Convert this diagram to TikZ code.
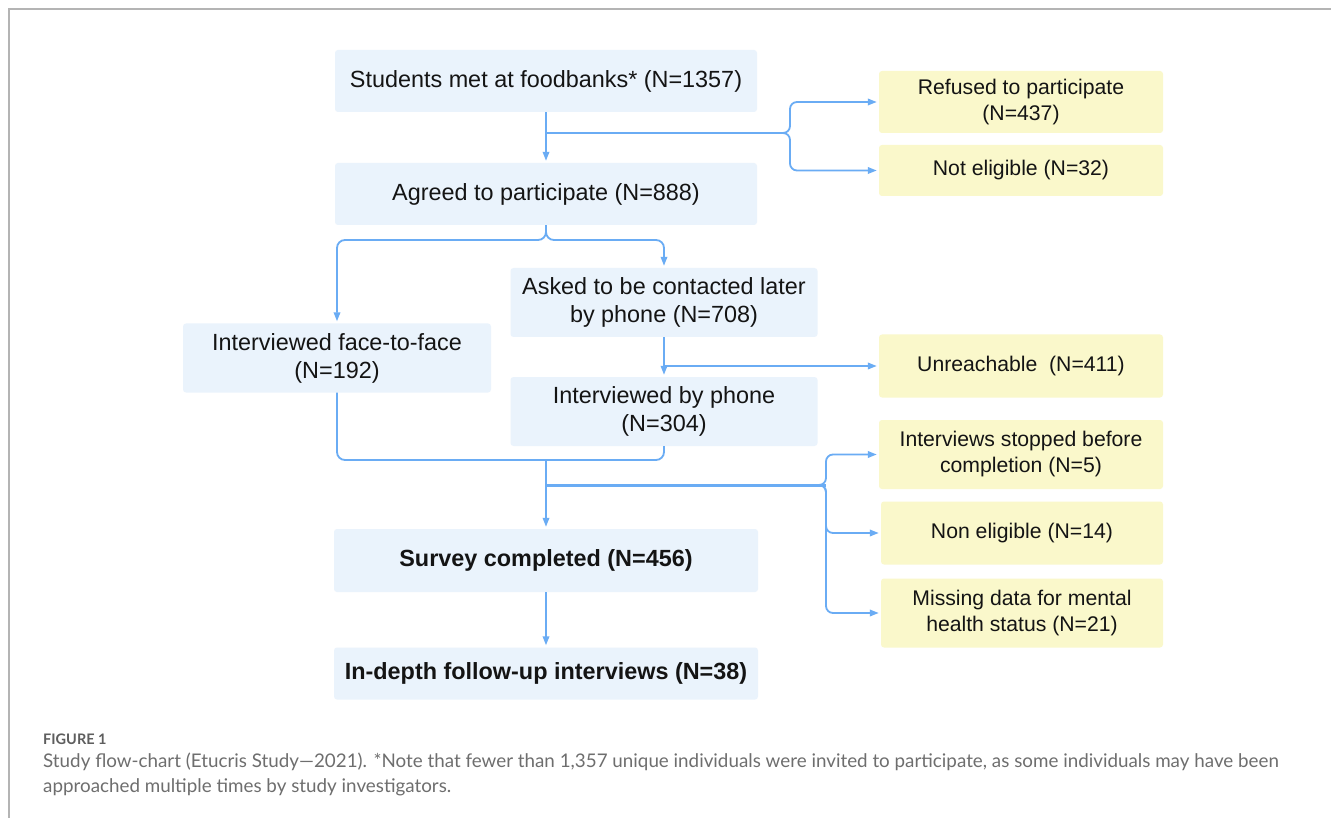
\documentclass[tikz,border=0pt]{standalone}
\usepackage{fontspec}
\setmainfont{Liberation Sans}
\newfontfamily\capfont{Lato}
\usetikzlibrary{arrows.meta}
\definecolor{boxblue}{HTML}{EAF3FC}
\definecolor{boxyellow}{HTML}{FAF8CB}
\definecolor{linkblue}{HTML}{6AACF4}
\definecolor{framegray}{HTML}{B4B4B4}
\definecolor{capgray}{HTML}{6E6E6E}
\definecolor{figgray}{HTML}{5E5E5E}
\begin{document}
\begin{tikzpicture}[x=1pt,y=-1pt,
  bluebox/.style={fill=boxblue, rounded corners=3pt, inner sep=0pt, align=center,
    font=\fontsize{23.4}{28}\selectfont, text=black!92},
  yellowbox/.style={fill=boxyellow, rounded corners=3pt, inner sep=0pt, align=center,
    font=\fontsize{21.2}{26}\selectfont, text=black!92},
  link/.style={draw=linkblue, line width=1.8pt},
  arr/.style={link, -{Triangle[length=9pt,width=6.5pt]}, shorten >=2pt},
  capline/.style={anchor=base west, inner sep=0pt, text=capgray,
    font=\capfont\fontsize{18.8}{25}\selectfont}
]
\useasboundingbox (0,0) rectangle (1331,818);
\fill[white] (0,0) rectangle (1331,818);
% frame
\draw[framegray, line width=2pt] (9,818) -- (9,9) -- (1331,9);

% blue boxes
\node[bluebox, minimum width=422pt, minimum height=62pt] (b1) at (546,81) {Students met at foodbanks* (N=1357)};
\node[bluebox, minimum width=422pt, minimum height=62pt] (b2) at (546,194) {Agreed to participate (N=888)};
\node[bluebox, minimum width=307pt, minimum height=69pt] (b3) at (664,302.5) {Asked to be contacted later\\by phone (N=708)};
\node[bluebox, minimum width=308pt, minimum height=69pt] (b4) at (337,358) {Interviewed face-to-face\\(N=192)};
\node[bluebox, minimum width=307pt, minimum height=69pt] (b5) at (664,411.5) {Interviewed by phone\\(N=304)};
\node[bluebox, minimum width=424pt, minimum height=63pt, font=\bfseries\fontsize{23.4}{28}\selectfont] (b6) at (546,560.5) {Survey completed (N=456)};
\node[bluebox, minimum width=424pt, minimum height=52pt, font=\bfseries\fontsize{23.4}{28}\selectfont] (b7) at (546,673.5) {In-depth follow-up interviews (N=38)};

% yellow boxes
\node[yellowbox, minimum width=284pt, minimum height=62pt] (y1) at (1021,102) {Refused to participate\\(N=437)};
\node[yellowbox, minimum width=284pt, minimum height=51pt] (y2) at (1021,170.5) {Not eligible (N=32)};
\node[yellowbox, minimum width=284pt, minimum height=63pt] (y3) at (1021,366) {Unreachable~~(N=411)};
\node[yellowbox, minimum width=284pt, minimum height=69pt] (y4) at (1021,454.5) {Interviews stopped before\\completion (N=5)};
\node[yellowbox, minimum width=282pt, minimum height=63pt] (y5) at (1022,533) {Non eligible (N=14)};
\node[yellowbox, minimum width=282pt, minimum height=69pt] (y6) at (1022,613) {Missing data for mental\\health status (N=21)};

% junction coordinates
\coordinate (j1) at (546,133);
\coordinate (s1) at (790,133);
\coordinate (j2) at (546,240);
\coordinate (j3) at (546,460);
\coordinate (j4) at (546,485);
\coordinate (s4) at (826,485);

% connectors
\draw[arr] (b1.south) -- (b2.north);
\draw[arr, rounded corners=7pt] (j1) -- (s1) |- (y1.west);
\draw[arr, rounded corners=7pt] (j1) -- (s1) |- (y2.west);

\draw[arr, rounded corners=8pt] (b2.south) -- (j2) -| (b4.north);
\draw[arr, rounded corners=8pt] (b2.south) -- (j2) -| (b3.north);

\draw[arr] (b3.south) -- (b5.north);
\draw[arr] (b3.south |- y3.west) -- (y3.west);

\draw[link, rounded corners=8pt] (b4.south) |- (j3);
\draw[link, rounded corners=8pt] (b5.south) |- (j3);
\draw[arr] (j3) -- (b6.north);

\draw[arr, rounded corners=7pt] (j4) -- (s4) |- (y4.west);
\draw[arr, rounded corners=7pt] (j4) -- (s4) |- (y5.west);
\draw[arr, rounded corners=7pt] (j4) -- (s4) |- (y6.west);
\draw[link, line width=3pt] (j4) -- (s4);

\draw[arr] (b6.south) -- (b7.north);

% caption
\node[anchor=base west, inner sep=0pt, text=figgray, font=\capfont\bfseries\fontsize{14.5}{17}\selectfont] (fig) at (43,744) {FIGURE 1};
\node[capline] (cap1) at (43,767) {Study flow-chart (Etucris Study—2021). *Note that fewer than 1,357 unique individuals were invited to participate, as some individuals may have been};
\node[capline] (cap2) at (43,792) {approached multiple times by study investigators.};
\end{tikzpicture}
\end{document}
